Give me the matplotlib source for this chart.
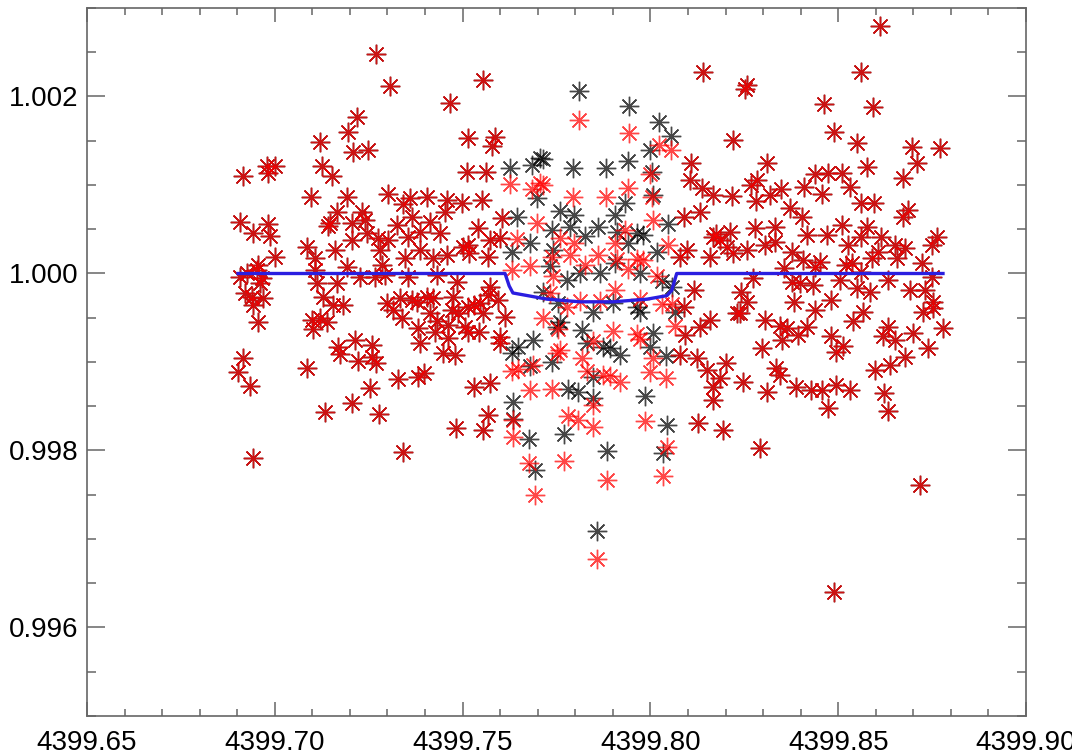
import matplotlib
matplotlib.use("Agg")
import matplotlib.pyplot as plt
from matplotlib.ticker import MultipleLocator, FormatStrFormatter

# ---------------- data ----------------
# out-of-transit points (black and red coincide)
t_out = [
    4399.6915, 4399.6979, 4399.7000, 4399.6982, 4399.6907, 4399.6942, 4399.6982, 4399.6987,
    4399.7000, 4399.6955, 4399.6907, 4399.6926, 4399.6953, 4399.6966, 4399.6961, 4399.6921,
    4399.6939, 4399.6969, 4399.6942, 4399.6955, 4399.6915, 4399.6902, 4399.6934, 4399.6942,
    4399.7096, 4399.7120, 4399.7125, 4399.7152, 4399.7195, 4399.7219, 4399.7208, 4399.7248,
    4399.7192, 4399.7165, 4399.7141, 4399.7147, 4399.7205, 4399.7232, 4399.7240, 4399.7245,
    4399.7205, 4399.7085, 4399.7107, 4399.7160, 4399.7107, 4399.7112, 4399.7192, 4399.7165,
    4399.7128, 4399.7155, 4399.7181, 4399.7099, 4399.7120, 4399.7139, 4399.7101, 4399.7085,
    4399.7168, 4399.7173, 4399.7213, 4399.7259, 4399.7221, 4399.7259, 4399.7269, 4399.7133,
    4399.7205, 4399.7253, 4399.7277, 4399.7227, 4399.7267, 4399.7269, 4399.7275,
    4399.7306, 4399.7466, 4399.7514, 4399.7511, 4399.7301, 4399.7341, 4399.7360, 4399.7405,
    4399.7458, 4399.7498, 4399.7365, 4399.7452, 4399.7325, 4399.7413, 4399.7301, 4399.7354,
    4399.7386, 4399.7439, 4399.7280, 4399.7285, 4399.7346, 4399.7386, 4399.7421, 4399.7458,
    4399.7501, 4399.7293, 4399.7354, 4399.7431, 4399.7485, 4399.7298, 4399.7314, 4399.7338,
    4399.7333, 4399.7365, 4399.7378, 4399.7405, 4399.7421, 4399.7474, 4399.7381, 4399.7413,
    4399.7431, 4399.7426, 4399.7461, 4399.7386, 4399.7461, 4399.7447, 4399.7479, 4399.7471,
    4399.7487, 4399.7506, 4399.7328, 4399.7381, 4399.7397, 4399.7341, 4399.7482,
    4399.7554, 4399.7586, 4399.7578, 4399.7562, 4399.7551, 4399.7605, 4399.7541, 4399.7514,
    4399.7573, 4399.7600, 4399.7517, 4399.7567, 4399.7573, 4399.7567, 4399.7594, 4399.7514,
    4399.7530, 4399.7546, 4399.7554, 4399.7613, 4399.7514, 4399.7543, 4399.7600, 4399.7530,
    4399.7573, 4399.7554, 4399.7567, 4399.7600,
    4399.8140, 4399.8219, 4399.8108, 4399.8105, 4399.8137, 4399.8166, 4399.8089, 4399.8132,
    4399.8166, 4399.8185, 4399.8203, 4399.8158, 4399.8219, 4399.8097, 4399.8078, 4399.8116,
    4399.8132, 4399.8158, 4399.8089, 4399.8230, 4399.8092, 4399.8078, 4399.8124, 4399.8150,
    4399.8185, 4399.8201, 4399.8166, 4399.8166, 4399.8126, 4399.8193, 4399.8174, 4399.8211,
    4399.8610, 4399.8560, 4399.8257, 4399.8252, 4399.8462, 4399.8592, 4399.8488, 4399.8549,
    4399.8696, 4399.8771, 4399.8310, 4399.8709, 4399.8576, 4399.8672, 4399.8437, 4399.8472,
    4399.8509, 4399.8283, 4399.8267, 4399.8408, 4399.8349, 4399.8318, 4399.8217, 4399.8456,
    4399.8531, 4399.8280, 4399.8562, 4399.8594, 4399.8371, 4399.8403, 4399.8685, 4399.8672,
    4399.8509, 4399.8576, 4399.8332, 4399.8278, 4399.8416, 4399.8469, 4399.8562, 4399.8615,
    4399.8650, 4399.8763, 4399.8750, 4399.8257, 4399.8305, 4399.8332, 4399.8376, 4399.8406,
    4399.8451, 4399.8525, 4399.8536, 4399.8589, 4399.8605, 4399.8656, 4399.8677, 4399.8722,
    4399.8355, 4399.8437, 4399.8562, 4399.8522, 4399.8273, 4399.8376, 4399.8398, 4399.8432,
    4399.8504, 4399.8549, 4399.8584, 4399.8632, 4399.8691, 4399.8730, 4399.8749, 4399.8241,
    4399.8257, 4399.8382, 4399.8480, 4399.8752,
    4399.8238, 4399.8305, 4399.8344, 4399.8363, 4399.8350, 4399.8296, 4399.8393, 4399.8416,
    4399.8437, 4399.8480, 4399.8494, 4399.8512, 4399.8539, 4399.8565, 4399.8632, 4399.8619,
    4399.8650, 4399.8698, 4399.8677, 4399.8637, 4399.8597, 4399.8738, 4399.8778, 4399.8752,
    4399.8725, 4399.8246, 4399.8310, 4399.8334, 4399.8344, 4399.8387, 4399.8427, 4399.8456,
    4399.8494, 4399.8531, 4399.8472, 4399.8621, 4399.8632, 4399.8291, 4399.8717, 4399.8488,
]
f_out = [
    1.00110, 1.00122, 1.00121, 1.00113, 1.00058, 1.00046, 1.00056, 1.00042,
    1.00019, 1.00010, 0.99996, 1.00001, 1.00004, 0.99995, 0.99989, 0.99978,
    0.99973, 0.99972, 0.99964, 0.99945, 0.99904, 0.99889, 0.99873, 0.99791,
    1.00087, 1.00149, 1.00121, 1.00110, 1.00160, 1.00177, 1.00137, 1.00139,
    1.00086, 1.00070, 1.00054, 1.00057, 1.00057, 1.00069, 1.00060, 1.00046,
    1.00038, 1.00030, 1.00018, 1.00027, 1.00004, 0.99989, 1.00007, 0.99989,
    0.99973, 0.99964, 0.99964, 0.99947, 0.99950, 0.99945, 0.99937, 0.99893,
    0.99917, 0.99909, 0.99925, 0.99919, 0.99901, 0.99906, 0.99899, 0.99843,
    0.99854, 0.99871, 0.99841, 0.99996, 0.99996, 1.00248, 1.00040,
    1.00212, 1.00193, 1.00153, 1.00115, 1.00090, 1.00078, 1.00085, 1.00087,
    1.00083, 1.00080, 1.00064, 1.00070, 1.00055, 1.00058, 1.00038, 1.00041,
    1.00047, 1.00046, 1.00027, 1.00010, 1.00018, 1.00027, 1.00018, 1.00021,
    1.00030, 0.99998, 0.99996, 0.99998, 0.99990, 0.99967, 0.99959, 0.99950,
    0.99972, 0.99970, 0.99968, 0.99974, 0.99972, 0.99974, 0.99938, 0.99955,
    0.99946, 0.99934, 0.99942, 0.99921, 0.99927, 0.99910, 0.99908, 0.99959,
    0.99955, 0.99940, 0.99881, 0.99883, 0.99888, 0.99798, 0.99825,
    1.00219, 1.00154, 1.00144, 1.00115, 1.00083, 1.00063, 1.00051, 1.00032,
    1.00038, 1.00040, 1.00023, 1.00019, 0.99985, 0.99976, 0.99970, 0.99962,
    0.99964, 0.99967, 0.99955, 0.99951, 0.99934, 0.99934, 0.99928, 0.99872,
    0.99876, 0.99823, 0.99840, 0.99921,
    1.00228, 1.00151, 1.00125, 1.00106, 1.00097, 1.00089, 1.00064, 1.00070,
    1.00041, 1.00038, 1.00030, 1.00019, 1.00023, 1.00027, 1.00019, 0.99981,
    0.99940, 0.99947, 0.99962, 0.99955, 0.99930, 0.99908, 0.99905, 0.99891,
    0.99882, 0.99899, 0.99872, 0.99857, 0.99831, 0.99823, 1.00045, 1.00047,
    1.00280, 1.00228, 1.00213, 1.00208, 1.00192, 1.00188, 1.00160, 1.00148,
    1.00143, 1.00142, 1.00125, 1.00125, 1.00120, 1.00108, 1.00112, 1.00114,
    1.00113, 1.00106, 1.00100, 1.00098, 1.00095, 1.00089, 1.00088, 1.00090,
    1.00098, 1.00082, 1.00080, 1.00080, 1.00074, 1.00064, 1.00072, 1.00064,
    1.00055, 1.00053, 1.00053, 1.00051, 1.00043, 1.00043, 1.00041, 1.00041,
    1.00032, 1.00041, 1.00032, 1.00027, 1.00032, 1.00036, 1.00024, 1.00015,
    1.00013, 1.00032, 1.00012, 1.00018, 1.00024, 1.00018, 1.00029, 1.00012,
    1.00006, 1.00007, 1.00002, 1.00010, 0.99995, 0.99990, 0.99989, 0.99987,
    0.99993, 0.99984, 0.99979, 0.99993, 0.99981, 0.99981, 0.99996, 0.99979,
    0.99968, 0.99968, 0.99970, 0.99968,
    0.99955, 0.99947, 0.99941, 0.99938, 0.99925, 0.99916, 0.99930, 0.99940,
    0.99959, 0.99929, 0.99911, 0.99918, 0.99946, 0.99956, 0.99940, 0.99929,
    0.99925, 0.99933, 0.99906, 0.99897, 0.99891, 0.99916, 0.99938, 0.99961,
    0.99956, 0.99877, 0.99866, 0.99893, 0.99885, 0.99872, 0.99868, 0.99868,
    0.99874, 0.99868, 0.99848, 0.99865, 0.99845, 0.99803, 0.99761, 0.99640,
]

# in-transit points: original flux (black) and transit-modified flux (red)
t_in = [
    4399.7810, 4399.7943, 4399.8023, 4399.8055, 4399.7627, 4399.7685, 4399.7706, 4399.7714,
    4399.7794, 4399.7882, 4399.7941, 4399.7999, 4399.8004, 4399.7698, 4399.7933, 4399.8006,
    4399.7759, 4399.7797, 4399.7645, 4399.7905, 4399.7861, 4399.8047, 4399.7964, 4399.7980,
    4399.7738, 4399.7786, 4399.7826, 4399.7941, 4399.8018, 4399.7741, 4399.7632, 4399.7679,
    4399.7733, 4399.7778, 4399.7813, 4399.7866, 4399.7906, 4399.7972, 4399.8031, 4399.8058,
    4399.7714, 4399.7754, 4399.7847, 4399.7901, 4399.7964, 4399.7752, 4399.7818, 4399.7688,
    4399.7759, 4399.7972, 4399.8006, 4399.8066, 4399.7648, 4399.7632, 4399.7679, 4399.7738,
    4399.7831, 4399.7874, 4399.7893, 4399.7919, 4399.7847, 4399.7781, 4399.7807, 4399.7847,
    4399.7635, 4399.7635, 4399.7677, 4399.7693, 4399.7770, 4399.7885, 4399.7858, 4399.7985,
    4399.8044, 4399.8034, 4399.7999, 4399.8042, 4399.7911,
]
f_in_black = [
    1.00206, 1.00189, 1.00171, 1.00155, 1.00119, 1.00123, 1.00131, 1.00129,
    1.00119, 1.00119, 1.00127, 1.00140, 1.00115, 1.00085, 1.00080, 1.00089,
    1.00071, 1.00066, 1.00064, 1.00066, 1.00053, 1.00056, 1.00046, 1.00044,
    1.00049, 1.00052, 1.00042, 1.00035, 1.00024, 1.00027, 1.00024, 1.00035,
    1.00008, 0.99993, 1.00001, 1.00001, 1.00012, 1.00001, 0.99991, 0.99985,
    0.99979, 0.99967, 0.99956, 0.99967, 0.99962, 0.99940, 0.99936, 0.99925,
    0.99945, 0.99956, 0.99933, 0.99956, 0.99917, 0.99910, 0.99895, 0.99900,
    0.99922, 0.99917, 0.99916, 0.99908, 0.99883, 0.99870, 0.99866, 0.99859,
    0.99855, 0.99836, 0.99813, 0.99778, 0.99819, 0.99799, 0.99709, 0.99862,
    0.99829, 0.99797, 0.99917, 0.99907, 1.00047,
]
f_in_red = [
    1.00174, 1.00159, 1.00145, 1.00140, 1.00101, 1.00095, 1.00102, 1.00100,
    1.00087, 1.00087, 1.00097, 1.00112, 1.00087, 1.00057, 1.00049, 1.00061,
    1.00040, 1.00034, 1.00039, 1.00034, 1.00021, 1.00032, 1.00016, 1.00015,
    1.00019, 1.00021, 1.00010, 1.00005, 0.99997, 0.99997, 1.00004, 1.00008,
    0.99978, 0.99962, 0.99969, 0.99969, 0.99981, 0.99971, 0.99965, 0.99965,
    0.99950, 0.99937, 0.99924, 0.99935, 0.99932, 0.99910, 0.99904, 0.99897,
    0.99914, 0.99926, 0.99905, 0.99941, 0.99892, 0.99890, 0.99868, 0.99870,
    0.99890, 0.99885, 0.99884, 0.99877, 0.99851, 0.99839, 0.99834, 0.99827,
    0.99834, 0.99815, 0.99786, 0.99750, 0.99788, 0.99767, 0.99677, 0.99833,
    0.99804, 0.99771, 0.99889, 0.99882, 1.00016,
]

# transit model
model_t = [4399.6902, 4399.7613, 4399.7624, 4399.7634, 4399.7725, 4399.7813,
           4399.7901, 4399.7991, 4399.8044, 4399.8057, 4399.8070, 4399.8779]
model_f = [1.00000, 1.00000, 0.99986, 0.99978, 0.99971, 0.99968,
           0.99968, 0.99971, 0.99975, 0.99981, 1.00000, 1.00000]

x_ticks = [4399.65, 4399.70, 4399.75, 4399.80, 4399.85, 4399.90]
y_ticks = [0.996, 0.998, 1.000, 1.002]

# ---------------- figure ----------------
W, H = 1072, 754
fig = plt.figure(figsize=(W / 100, H / 100), dpi=100)
ax = fig.add_axes([87 / W, 38 / H, 939 / W, 708 / H])

ast = (8, 2, 0)
ax.plot(t_out + t_in, f_out + f_in_black, ls="none", marker=ast, ms=14,
        mew=1.0, color="black", alpha=0.72)
ax.plot(t_out + t_in, f_out + f_in_red, ls="none", marker=ast, ms=14,
        mew=1.0, color="#ff0000", alpha=0.72)
ax.plot(model_t, model_f, color="#2a1ee0", lw=2.4)

ax.set_xlim(4399.65, 4399.90)
ax.set_ylim(0.995, 1.003)
ax.set_xticks(x_ticks)
ax.set_yticks(y_ticks)
ax.xaxis.set_minor_locator(MultipleLocator(0.01))
ax.yaxis.set_minor_locator(MultipleLocator(0.0005))
ax.xaxis.set_major_formatter(FormatStrFormatter("%.2f"))
ax.yaxis.set_major_formatter(FormatStrFormatter("%.3f"))

for s in ax.spines.values():
    s.set_color("#666666")
    s.set_linewidth(1.2)

ax.tick_params(axis="both", which="both", direction="in", top=True, right=True,
               color="#666666", width=1.1)
ax.tick_params(axis="x", which="major", length=10, pad=10)
ax.tick_params(axis="x", which="minor", length=5)
ax.tick_params(axis="y", which="major", length=13, pad=6)
ax.tick_params(axis="y", which="minor", length=6.5)
for lab in ax.get_xticklabels() + ax.get_yticklabels():
    lab.set_fontfamily("Liberation Sans")
    lab.set_fontsize(20)
    lab.set_color("black")

fig.savefig("out.png", dpi=100)
